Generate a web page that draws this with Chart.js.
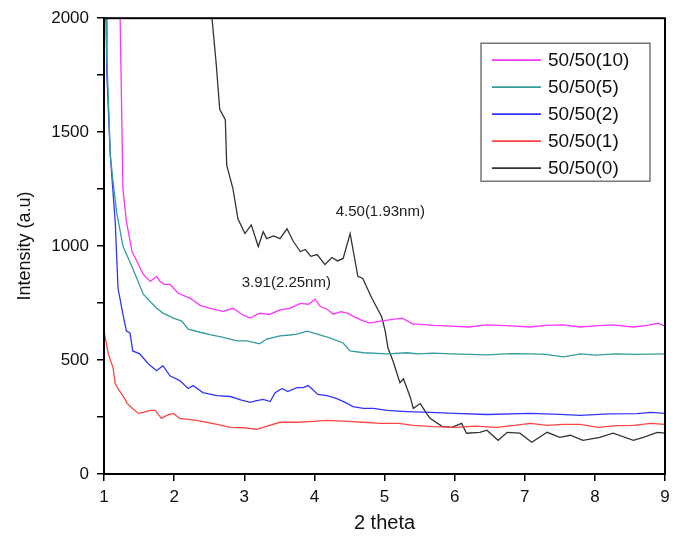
<!DOCTYPE html>
<html>
<head>
<meta charset="utf-8">
<script src="https://cdn.jsdelivr.net/npm/chart.js@4.4.1/dist/chart.umd.min.js"></script>
<style>
  html, body { margin: 0; padding: 0; background: #fff; }
  #wrap { width: 680px; height: 537px; }
</style>
</head>
<body>
<div id="wrap"><canvas id="xrd"></canvas></div>
<script>
// series (2 theta, intensity)
const labels = ['50/50(10)', '50/50(5)', '50/50(2)', '50/50(1)', '50/50(0)'];
const colors = ['#ff33ff', '#339c9c', '#3333ff', '#ff4444', '#333333'];

const x10 = [1.22, 1.23, 1.25, 1.27, 1.32, 1.40, 1.49, 1.56, 1.66, 1.75, 1.80, 1.86, 1.94, 2.06, 2.23, 2.37, 2.51, 2.70, 2.84, 2.97, 3.08, 3.22, 3.36, 3.51, 3.65, 3.80, 3.92, 4.01, 4.08, 4.18, 4.27, 4.38, 4.47, 4.55, 4.67, 4.79, 4.94, 5.04, 5.25, 5.41, 5.47, 5.70, 5.94, 6.20, 6.46, 6.80, 7.08, 7.30, 7.55, 7.79, 8.00, 8.26, 8.55, 8.75, 8.90, 9.00];
const y10 = [2100, 2000, 1630, 1250, 1107, 976, 920, 876, 845, 867, 845, 832, 832, 793, 771, 740, 727, 714, 727, 700, 684, 706, 700, 720, 727, 749, 745, 767, 736, 723, 701, 712, 706, 693, 675, 662, 671, 675, 684, 658, 658, 652, 649, 645, 654, 650, 645, 652, 654, 645, 650, 654, 645, 652, 662, 649];

const x5 = [1.02, 1.03, 1.04, 1.09, 1.13, 1.18, 1.27, 1.41, 1.56, 1.75, 1.84, 1.99, 2.11, 2.20, 2.37, 2.51, 2.70, 2.80, 2.90, 3.04, 3.22, 3.32, 3.51, 3.65, 3.75, 3.90, 4.04, 4.22, 4.41, 4.51, 4.70, 5.04, 5.32, 5.47, 5.70, 5.94, 6.20, 6.46, 6.80, 7.08, 7.30, 7.55, 7.80, 8.00, 8.30, 8.60, 9.00];
const y5 = [2100, 2000, 1834, 1398, 1281, 1150, 1000, 902, 789, 727, 706, 684, 671, 636, 622, 612, 600, 592, 584, 584, 571, 592, 606, 610, 614, 627, 614, 597, 575, 540, 532, 527, 532, 527, 530, 527, 525, 523, 528, 527, 525, 514, 527, 522, 527, 525, 527];

const x2 = [1.01, 1.03, 1.04, 1.09, 1.16, 1.20, 1.27, 1.32, 1.37, 1.41, 1.51, 1.63, 1.75, 1.84, 1.94, 2.08, 2.20, 2.27, 2.41, 2.61, 2.80, 2.95, 3.08, 3.18, 3.27, 3.37, 3.44, 3.54, 3.62, 3.75, 3.84, 3.91, 3.96, 4.05, 4.18, 4.32, 4.44, 4.55, 4.70, 4.84, 5.04, 5.32, 5.65, 6.00, 6.46, 7.08, 7.50, 7.79, 8.20, 8.60, 8.80, 9.00];
const y2 = [2100, 2000, 1760, 1398, 1107, 815, 700, 627, 619, 540, 527, 484, 453, 475, 431, 410, 375, 388, 357, 344, 340, 325, 314, 322, 327, 318, 357, 375, 362, 379, 379, 388, 375, 349, 344, 331, 314, 296, 288, 288, 279, 274, 270, 266, 261, 266, 262, 257, 264, 265, 270, 266];

const x1 = [1.00, 1.03, 1.06, 1.13, 1.16, 1.22, 1.27, 1.33, 1.39, 1.49, 1.56, 1.66, 1.73, 1.82, 1.90, 1.99, 2.08, 2.20, 2.32, 2.45, 2.61, 2.80, 3.00, 3.18, 3.27, 3.51, 3.75, 3.98, 4.18, 4.47, 4.70, 4.94, 5.20, 5.41, 5.70, 6.00, 6.30, 6.60, 6.85, 7.08, 7.32, 7.55, 7.79, 8.05, 8.30, 8.55, 8.80, 9.00];
const y1 = [627, 580, 527, 466, 396, 365, 344, 310, 292, 266, 270, 279, 279, 244, 258, 266, 244, 240, 235, 228, 218, 205, 203, 196, 205, 227, 227, 231, 235, 231, 227, 222, 222, 213, 208, 205, 210, 205, 213, 222, 213, 218, 218, 205, 212, 213, 222, 218];

const x0 = [2.50, 2.54, 2.60, 2.65, 2.73, 2.75, 2.84, 2.91, 3.01, 3.10, 3.20, 3.27, 3.32, 3.42, 3.51, 3.61, 3.70, 3.80, 3.87, 3.95, 4.04, 4.15, 4.25, 4.33, 4.41, 4.51, 4.62, 4.69, 4.82, 4.96, 5.01, 5.05, 5.12, 5.22, 5.27, 5.37, 5.41, 5.51, 5.60, 5.65, 5.82, 5.96, 6.10, 6.17, 6.36, 6.46, 6.62, 6.75, 6.93, 7.10, 7.32, 7.50, 7.65, 7.83, 8.07, 8.26, 8.55, 8.69, 8.89, 9.00];
const y0 = [2150, 2000, 1800, 1600, 1555, 1355, 1250, 1120, 1055, 1093, 998, 1063, 1033, 1045, 1033, 1076, 1020, 976, 985, 955, 963, 919, 950, 935, 946, 1055, 867, 858, 771, 690, 627, 553, 497, 401, 418, 335, 288, 309, 266, 244, 209, 205, 222, 179, 183, 192, 148, 183, 179, 139, 183, 161, 170, 148, 161, 179, 148, 161, 183, 179];

// peak notes
const noteText = ['4.50(1.93nm)', '3.91(2.25nm)'];
const noteX = [4.94, 3.60];
const noteY = [1150, 837];

const xTicks = [1, 2, 3, 4, 5, 6, 7, 8, 9];

function pts(xs, ys) {
    return xs.map(function(v, i) { return {x: v, y: ys[i]}; });
}

const seriesX = [x10, x5, x2, x1, x0];
const seriesY = [y10, y5, y2, y1, y0];

const datasets = labels.map(function(lab, i) {
    return {
        label: lab,
        data: pts(seriesX[i], seriesY[i]),
        borderColor: colors[i],
        backgroundColor: colors[i],
        borderWidth: 1.3,
        pointRadius: 0,
        tension: 0,
    };
});

// frame, legend box and peak notes
const extras = {
    id: 'extras',
    afterDraw(chart) {
        const ctx = chart.ctx;
        const a = chart.chartArea;
        ctx.save();
        ctx.strokeStyle = '#000';
        ctx.lineWidth = 2;
        ctx.strokeRect(a.left, a.top, a.right - a.left, a.bottom - a.top);

        // legend
        const bx = a.right - 184, by = a.top + 25, bw = 169, bh = 138;
        ctx.lineWidth = 1.2;
        ctx.strokeStyle = '#555';
        ctx.strokeRect(bx, by, bw, bh);
        ctx.font = '19px "Liberation Sans", Arial, sans-serif';
        ctx.textBaseline = 'middle';
        ctx.fillStyle = '#111';
        labels.forEach(function(lab, i) {
            const yy = by + 17 + i * 27;
            ctx.strokeStyle = colors[i];
            ctx.lineWidth = 1.8;
            ctx.beginPath();
            ctx.moveTo(bx + 11, yy);
            ctx.lineTo(bx + 60, yy);
            ctx.stroke();
            ctx.fillText(lab, bx + 67, yy + 1);
        });

        // notes
        ctx.font = '15px "Liberation Sans", Arial, sans-serif';
        ctx.textAlign = 'center';
        ctx.fillStyle = '#222';
        noteText.forEach(function(t, i) {
            ctx.fillText(t, chart.scales.x.getPixelForValue(noteX[i]), chart.scales.y.getPixelForValue(noteY[i]));
        });
        ctx.restore();
    }
};

new Chart(document.getElementById('xrd'), {
    type: 'line',
    data: { datasets: datasets },
    options: {
        responsive: true,
        maintainAspectRatio: false,
        animation: false,
        layout: { padding: { top: 15, right: 15, left: 0, bottom: 0 } },
        plugins: {
            legend: { display: false },
            tooltip: { enabled: false },
        },
        scales: {
            x: {
                type: 'linear',
                min: 1,
                max: 9,
                afterBuildTicks: function(scale) {
                    scale.ticks = xTicks.map(function(v) { return {value: v}; });
                },
                afterFit: function(scale) { scale.height = 63; },
                grid: { display: true, drawOnChartArea: false, drawTicks: true, tickLength: 7, color: '#000', lineWidth: 1.5 },
                border: { display: true, color: '#000', width: 2 },
                ticks: { color: '#111', padding: 6, font: { size: 17, family: '"Liberation Sans", Arial, sans-serif' } },
                title: { display: true, text: '2 theta', color: '#111', padding: { top: 0, bottom: 2 }, font: { size: 20, family: '"Liberation Sans", Arial, sans-serif' } },
            },
            y: {
                type: 'linear',
                min: 0,
                max: 2000,
                afterFit: function(scale) { scale.width = 104; },
                grid: { display: true, drawOnChartArea: false, drawTicks: true, tickLength: 7, color: '#000', lineWidth: 1.5 },
                border: { display: true, color: '#000', width: 2 },
                ticks: {
                    stepSize: 250,
                    color: '#111',
                    padding: 8,
                    font: { size: 17, family: '"Liberation Sans", Arial, sans-serif' },
                    callback: function(v) { return v % 500 === 0 ? String(v) : ''; },
                },
                title: { display: true, text: 'Intensity (a.u)', color: '#111', padding: { top: 14, bottom: 0 }, font: { size: 18, family: '"Liberation Sans", Arial, sans-serif' } },
            }
        }
    },
    plugins: [extras]
});
</script>
</body>
</html>
